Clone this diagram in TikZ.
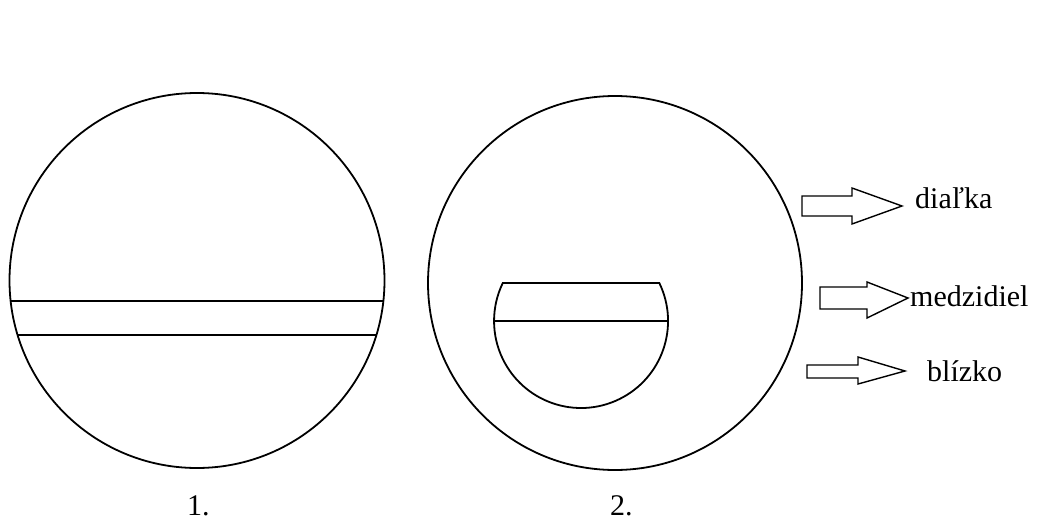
\documentclass[tikz,border=0pt]{standalone}
\usepackage{fontspec}
\setmainfont{Liberation Serif}
\begin{document}
\begin{tikzpicture}[x=1pt,y=-1pt,
  outline/.style={draw=black,line width=1.8pt},
  blockarrow/.style={draw=black,line width=1.4pt,fill=white,line join=miter},
  lbl/.style={inner sep=0pt,anchor=base west,font=\fontsize{30}{36}\selectfont},
  num/.style={inner sep=0pt,anchor=base west,font=\fontsize{30}{36}\selectfont}]
\useasboundingbox[fill=white] (0,0) rectangle (1038,524);
% figure 1
\draw[outline] (197,280.5) circle[radius=187.5pt];
\draw[outline] (10.3,301) -- (383.7,301);
\draw[outline] (17.5,335) -- (376.5,335);
% figure 2
\draw[outline] (615,283) circle[radius=187pt];
\draw[outline] (659.3,283) arc[start angle=25.9,end angle=-205.9,radius=87pt] -- cycle;
\draw[outline] (494,321) -- (668,321);
% arrows
\draw[blockarrow] (802,196) -- (852,196) -- (852,188) -- (902,206) -- (852,224) -- (852,216) -- (802,216) -- cycle;
\draw[blockarrow] (820,287) -- (867,287) -- (867,282) -- (908,298) -- (867,318) -- (867,309) -- (820,309) -- cycle;
\draw[blockarrow] (807,365) -- (858,365) -- (858,357) -- (905,371) -- (858,384) -- (858,378) -- (807,378) -- cycle;
% labels
\node[lbl] (l1) at (915,208) {diaľka};
\node[lbl] (l2) at (910,306) {medzidiel};
\node[lbl] (l3) at (927,381) {blízko};
\node[num] (n1) at (187,515) {1.};
\node[num] (n2) at (610,515) {2.};
\end{tikzpicture}
\end{document}
